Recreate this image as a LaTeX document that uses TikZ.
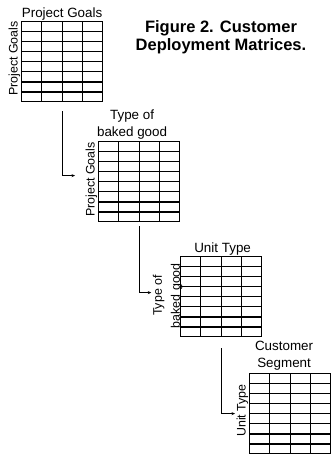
\documentclass[tikz,border=0pt]{standalone}
\usepackage{fontspec}
\setmainfont{Liberation Sans}
\usetikzlibrary{calc}
\usetikzlibrary{positioning}
\usetikzlibrary{arrows.meta}

\tikzset{
  gridframe/.style={draw, line width=1.2pt, minimum width=81pt, minimum height=80pt, inner sep=0pt},
  gridline/.style={line width=1.2pt},
  collabel/.style={font=\fontsize{13.4}{17}\selectfont, align=center, inner sep=1pt},
  rowlabel/.style={font=\fontsize{12.4}{15}\selectfont, align=center, rotate=90, anchor=south, inner sep=0.5pt},
  link/.style={line width=1pt, -{Stealth[length=3.5pt,width=3pt]}},
}

% one deployment matrix: 4 columns, 8 rows
\newcommand{\dmgrid}[2]{%
  \node[gridframe, anchor=north west] (#1) at (#2) {};
  \foreach \i in {1,2,3}
    \draw[gridline] ($(#1.north west)!\i/4!(#1.north east)$) -- ($(#1.south west)!\i/4!(#1.south east)$);
  \foreach \j in {1,...,7}
    \draw[gridline] ($(#1.north west)!\j/8!(#1.south west)$) -- ($(#1.north east)!\j/8!(#1.south east)$);
}

\begin{document}
\begin{tikzpicture}[x=1pt,y=-1pt]
  \useasboundingbox (0,0) rectangle (331,455);

  \node[font=\bfseries\fontsize{16.5}{18.5}\selectfont, align=center, anchor=north, inner sep=0pt]
    (title) at (221,20) {Figure 2. Customer\\Deployment Matrices.};

  \dmgrid{m1}{21,21}
  \dmgrid{m2}{98,141}
  \dmgrid{m3}{180,256}
  \dmgrid{m4}{249,373}

  % column heads
  \node[collabel, above=0pt of m1] (c1) {Project Goals};
  \node[collabel, anchor=south] (c2) at ([xshift=-7pt,yshift=1pt]m2.north) {Type of\\baked good};
  \node[collabel, above=0pt of m3, xshift=1.5pt] (c3) {Unit Type};
  \node[collabel, anchor=south] (c4) at ([xshift=-6pt,yshift=1.7pt]m4.north) {Customer\\Segment};

  % row heads
  \node[rowlabel] (r1) at ([yshift=3pt]m1.west) {Project Goals};
  \node[rowlabel] (r2) at ([yshift=2pt]m2.west) {Project Goals};
  \node[rowlabel] (r3) at ([xshift=3.2pt,yshift=1pt]m3.west) {Type of\\[3pt]baked good};
  \node[rowlabel] (r4) at ([yshift=3pt]m4.west) {Unit Type};

  % links between the matrices
  \draw[link] ([yshift=-9pt]m1.south) |- ([xshift=-10pt,yshift=4pt]r2.north);
  \draw[link] ([yshift=-4pt]m2.south) |- ([xshift=-1pt,yshift=3pt]r3.north);
  \draw[link] ([yshift=-11pt]m3.south) |- ([xshift=-1pt,yshift=-3pt]r4.north);
\end{tikzpicture}
\end{document}
